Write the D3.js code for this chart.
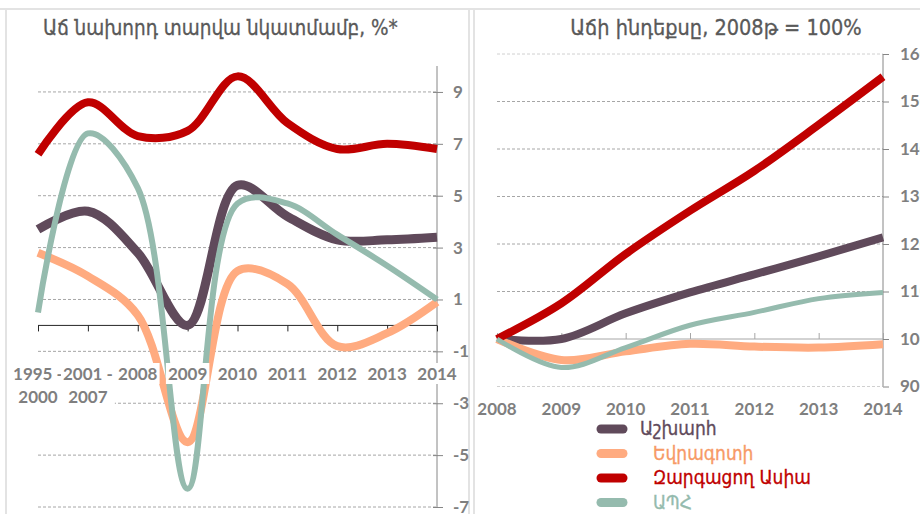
<!DOCTYPE html>
<html>
<head>
<meta charset="utf-8">
<script src="https://cdn.jsdelivr.net/npm/d3@7"></script>
<style>
  body { margin: 0; background: #fff; }
  svg { display: block; }
</style>
</head>
<body>
<div id="chart"></div>
<script>
// categories
var growthCats = ['1995 - 2000', '2001 - 2007', '2008', '2009', '2010', '2011', '2012', '2013', '2014'];
var indexYears = ['2008', '2009', '2010', '2011', '2012', '2013', '2014'];

// series names (legend order)
var names = ['Աշխարհ', 'Եվրագոտի', 'Զարգացող Ասիա', 'ԱՊՀ'];
var colors = ['#604a5b', '#ffab80', '#c00000', '#95bbae'];
var textColors = ['#604a5b', '#f79a66', '#c00000', '#95bbae'];

// left: growth vs previous year, %
var worldGrowth = [3.7, 4.4, 2.8, 0.0, 5.4, 4.2, 3.3, 3.3, 3.4];
var euroGrowth = [2.8, 1.9, 0.4, -4.5, 2.1, 1.6, -0.8, -0.3, 0.9];
var asiaGrowth = [6.6, 8.6, 7.3, 7.5, 9.6, 7.8, 6.8, 7.0, 6.8];
var cisGrowth = [0.5, 7.4, 5.3, -6.3, 4.7, 4.7, 3.5, 2.3, 1.0];

// right: growth index, 2008 = 100
var worldIndex = [100, 100.0, 105.4, 109.8, 113.6, 117.4, 121.4];
var euroIndex = [100, 95.6, 97.4, 99.0, 98.4, 98.2, 98.9];
var asiaIndex = [100, 107.5, 117.9, 127.0, 135.4, 145.1, 155.2];
var cisIndex = [100, 94.0, 98.2, 102.9, 105.6, 108.5, 109.8];

var leftTicks = [9, 7, 5, 3, 1, -1, -3, -5, -7];
var rightTicks = [160, 150, 140, 130, 120, 110, 100, 90];

var leftTitle = 'Աճ նախորդ տարվա նկատմամբ, %*';
var rightTitle = 'Աճի ինդեքսը, 2008թ = 100%';

var growthSeries = [worldGrowth, euroGrowth, asiaGrowth, cisGrowth];
var indexSeries = [worldIndex, euroIndex, asiaIndex, cisIndex];

var armFont = '"DejaVu Sans Condensed", "DejaVu Sans", sans-serif';
var numFont = 'Lato, "Liberation Sans", sans-serif';
var grey = '#7f7f7f';

var svg = d3.select('#chart')
			.append('svg')
			.attr('width', 920)
			.attr('height', 514);

// panel frames
svg.append('line').attr('x1', 0).attr('x2', 920).attr('y1', 9).attr('y2', 9)
	.attr('stroke', '#e3e3e3').attr('stroke-width', 2);
[6, 469, 474].forEach(function(x) {
	svg.append('line').attr('x1', x).attr('x2', x).attr('y1', 9).attr('y2', 514)
		.attr('stroke', '#e3e3e3').attr('stroke-width', 2);
});

// ---------- left chart ----------
var x1 = d3.scalePoint().domain(growthCats).range([38, 437]);
var y1 = d3.scaleLinear().domain([-7, 10]).range([507, 66]);

var left = svg.append('g');

left.append('text')
	.attr('x', 43).attr('y', 35)
	.attr('font-family', armFont)
	.attr('font-size', 20.5)
	.attr('fill', '#595959')
	.attr('stroke', '#595959').attr('stroke-width', 0.3)
	.text(leftTitle);

// gridlines
left.selectAll('.grid')
	.data(leftTicks)
	.enter()
	.append('line')
	.attr('x1', 38).attr('x2', 437)
	.attr('y1', d => y1(d)).attr('y2', d => y1(d))
	.attr('stroke', '#a6a6a6')
	.attr('stroke-dasharray', '3,2');

// right value axis
var yAxisL = left.append('g')
	.attr('transform', 'translate(437,0)')
	.call(d3.axisRight(y1).tickValues(leftTicks).tickSize(6).tickPadding(10).tickFormat(d3.format('d')));
yAxisL.select('.domain').attr('stroke', '#868686').attr('d', 'M0,' + y1(10) + 'V' + y1(-7));
yAxisL.selectAll('.tick line').attr('stroke', '#868686').attr('x1', -4);
yAxisL.selectAll('.tick text')
	.attr('font-family', numFont).attr('font-weight', 'bold')
	.attr('font-size', 17).attr('fill', grey)
	.text(d => d < 0 ? '-' + Math.abs(d) : d);

// category axis at zero
var xAxisL = left.append('g')
	.attr('transform', 'translate(0,' + y1(0) + ')')
	.call(d3.axisBottom(x1).tickSize(6).tickFormat(''));
xAxisL.select('.domain').attr('stroke', '#262626').attr('d', 'M38,0H437');
xAxisL.selectAll('.tick line').attr('stroke', '#262626');

var lineL = d3.line()
	.x((d, i) => x1(growthCats[i]))
	.y(d => y1(d))
	.curve(d3.curveCatmullRom.alpha(0.5));

var widthsL = [9, 8, 8, 6];
left.selectAll('.series')
	.data(growthSeries)
	.enter()
	.append('path')
	.attr('d', lineL)
	.attr('fill', 'none')
	.attr('stroke', (d, i) => colors[i])
	.attr('stroke-width', (d, i) => widthsL[i]);

// category labels on white boxes (they sit over the lines)
var labs = left.selectAll('.xlab')
	.data(growthCats)
	.enter()
	.append('g');
labs.each(function(d) {
	var g = d3.select(this);
	var parts = d.indexOf(' - ') > 0 ? [d.split(' - ')[0] + ' -', d.split(' - ')[1]] : [d];
	var t = g.append('text')
		.attr('text-anchor', 'middle')
		.attr('font-family', numFont).attr('font-weight', 'bold')
		.attr('font-size', 17).attr('fill', grey);
	parts.forEach(function(p, k) {
		t.append('tspan').attr('x', x1(d)).attr('y', 380 + k * 23).text(p);
	});
	var b = t.node().getBBox();
	g.insert('rect', 'text')
		.attr('x', b.x - 2).attr('y', b.y)
		.attr('width', b.width + 4).attr('height', b.height)
		.attr('fill', '#fff');
});

// ---------- right chart ----------
var x2 = d3.scalePoint().domain(indexYears).range([497, 883]);
var y2 = d3.scaleLinear().domain([90, 160]).range([386.5, 54]);

var right = svg.append('g');

right.append('text')
	.attr('x', 716).attr('y', 35)
	.attr('text-anchor', 'middle')
	.attr('font-family', armFont)
	.attr('font-size', 21.5)
	.attr('fill', '#595959')
	.attr('stroke', '#595959').attr('stroke-width', 0.3)
	.text(rightTitle);

right.selectAll('.grid')
	.data(rightTicks.filter(d => d !== 100))
	.enter()
	.append('line')
	.attr('x1', 497).attr('x2', 883)
	.attr('y1', d => y2(d)).attr('y2', d => y2(d))
	.attr('stroke', d => (d === 160 || d === 90) ? '#d0d0d0' : '#a6a6a6')
	.attr('stroke-dasharray', '3,2');

var yAxisR = right.append('g')
	.attr('transform', 'translate(883,0)')
	.call(d3.axisRight(y2).tickValues(rightTicks).tickSize(6).tickPadding(11));
yAxisR.select('.domain').attr('stroke', '#868686').attr('d', 'M0,' + y2(160) + 'V' + y2(90));
yAxisR.selectAll('.tick line').attr('stroke', '#868686');
yAxisR.selectAll('.tick text')
	.attr('font-family', numFont).attr('font-weight', 'bold')
	.attr('font-size', 17).attr('fill', grey);

// category axis at 100
var xAxisR = right.append('g')
	.attr('transform', 'translate(0,' + y2(100) + ')')
	.call(d3.axisTop(x2).tickSize(6).tickFormat(''));
xAxisR.select('.domain').attr('stroke', '#a6a6a6').attr('d', 'M497,0H883');
xAxisR.selectAll('.tick line').attr('stroke', '#a6a6a6');

right.selectAll('.xlab')
	.data(indexYears)
	.enter()
	.append('text')
	.attr('x', d => x2(d)).attr('y', 415)
	.attr('text-anchor', 'middle')
	.attr('font-family', numFont).attr('font-weight', 'bold')
	.attr('font-size', 17).attr('fill', grey)
	.text(d => d);

var lineR = d3.line()
	.x((d, i) => x2(indexYears[i]))
	.y(d => y2(d))
	.curve(d3.curveCatmullRom.alpha(0.5));

var widthsR = [8, 8, 8, 5];
right.selectAll('.series')
	.data(indexSeries)
	.enter()
	.append('path')
	.attr('d', lineR)
	.attr('fill', 'none')
	.attr('stroke', (d, i) => colors[i])
	.attr('stroke-width', (d, i) => widthsR[i]);

// legend
var legend = svg.append('g');
var rows = legend.selectAll('g')
	.data(names)
	.enter()
	.append('g')
	.attr('transform', (d, i) => `translate(0, ${429 + i * 24.5})`);

rows.append('line')
	.attr('x1', 601).attr('x2', 623)
	.attr('stroke', (d, i) => colors[i])
	.attr('stroke-width', 9)
	.attr('stroke-linecap', 'round');

rows.append('text')
	.attr('x', (d, i) => i === 0 ? 640 : 653)
	.attr('y', 6)
	.attr('font-family', armFont)
	.attr('font-size', 19)
	.attr('fill', (d, i) => textColors[i])
	.attr('stroke', (d, i) => textColors[i]).attr('stroke-width', 0.3)
	.text(d => d);
</script>
</body>
</html>
